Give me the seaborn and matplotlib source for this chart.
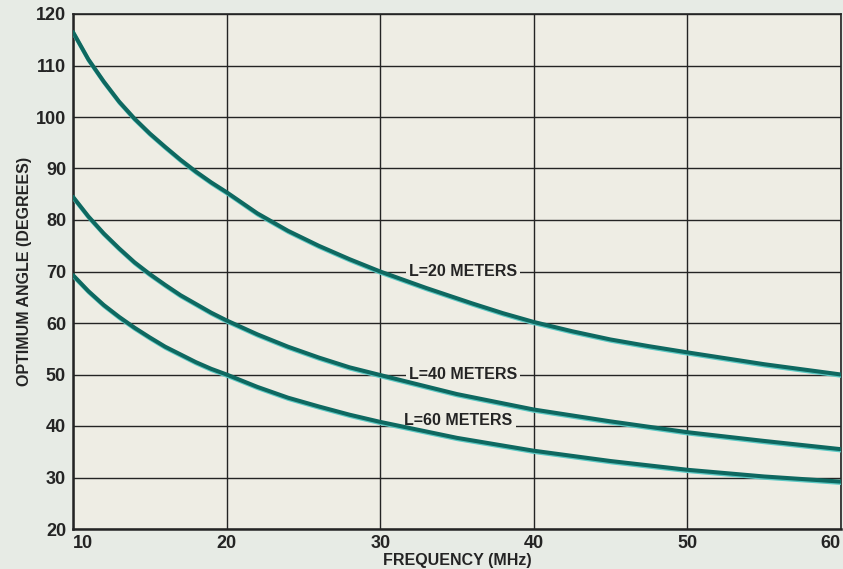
import matplotlib
matplotlib.use("Agg")
import matplotlib.pyplot as plt
import matplotlib.transforms as mtransforms
import seaborn as sns
import pandas as pd

# ---- data ----
freq_l20 = [10, 11, 12, 13, 14, 15, 16, 17, 18, 19, 20, 22, 24, 26, 28, 30,
            33, 36, 38, 40, 42.5, 45, 47.5, 50, 55, 60]
angle_l20 = [116.5, 111.2, 106.9, 103.0, 99.7, 96.8, 94.2, 91.7, 89.4, 87.3, 85.4,
             81.3, 77.9, 75.0, 72.4, 70.0, 66.8, 63.8, 61.9, 60.2, 58.4, 56.8,
             55.5, 54.3, 52.0, 50.0]

freq_l40 = [10, 11, 12, 13, 14, 15, 16, 17, 18, 19, 20, 22, 24, 26, 28, 30,
            35, 40, 45, 50, 55, 60]
angle_l40 = [84.5, 80.7, 77.4, 74.5, 71.8, 69.5, 67.4, 65.4, 63.7, 62.0, 60.5,
             57.8, 55.4, 53.3, 51.4, 49.9, 46.2, 43.2, 40.9, 38.8, 37.1, 35.5]

freq_l60 = [10, 11, 12, 13, 14, 15, 16, 17, 18, 19, 20, 22, 24, 26, 28, 30,
            35, 40, 45, 50, 55, 60]
angle_l60 = [69.3, 66.2, 63.5, 61.2, 59.1, 57.2, 55.4, 53.9, 52.4, 51.1, 50.0,
             47.6, 45.5, 43.8, 42.2, 40.8, 37.7, 35.2, 33.2, 31.5, 30.2, 29.2]

series_labels = ["L=20 METERS", "L=40 METERS", "L=60 METERS"]
label_pos_x = [35.4, 35.4, 35.1]
label_pos_y = [70, 50, 41.1]

x_ticks = [10, 20, 30, 40, 50, 60]
y_ticks = [20, 30, 40, 50, 60, 70, 80, 90, 100, 110, 120]
x_label = "FREQUENCY (MHz)"
y_label = "OPTIMUM ANGLE (DEGREES)"

# ---- styling ----
sns.set_style("white")
plt.rcParams["font.family"] = ["Liberation Sans", "DejaVu Sans"]

paper = "#eeede4"
ink = "#242424"
teal = "#0e6860"

df = pd.concat([
    pd.DataFrame({"freq": freq_l20, "angle": angle_l20, "series": series_labels[0]}),
    pd.DataFrame({"freq": freq_l40, "angle": angle_l40, "series": series_labels[1]}),
    pd.DataFrame({"freq": freq_l60, "angle": angle_l60, "series": series_labels[2]}),
], ignore_index=True)

fig = plt.figure(figsize=(8.43, 5.69), dpi=100, facecolor="#e7ebe5")
ax = fig.add_axes([73 / 843, 40 / 569, (841 - 73) / 843, (529 - 14) / 569])
ax.set_facecolor(paper)

# cyan misregistration halo, slightly offset downward
sns.lineplot(data=df, x="freq", y="angle", units="series", estimator=None,
             color="#5cc9c4", linewidth=2.8, ax=ax, legend=False, zorder=3)
halo_tr = mtransforms.offset_copy(ax.transData, fig=fig, x=0.5, y=-1.4, units="dots")
for ln in ax.get_lines():
    ln.set_transform(halo_tr)
sns.lineplot(data=df, x="freq", y="angle", units="series", estimator=None,
             color=teal, linewidth=2.9, ax=ax, legend=False, zorder=4)

ax.set_xlim(10, 60)
ax.set_ylim(20, 120)
ax.set_xticks(x_ticks)
ax.set_yticks(y_ticks)
ax.set_xticklabels([str(v) for v in x_ticks], fontweight="bold")
ax.set_yticklabels([str(v) for v in y_ticks], fontweight="bold")
ax.grid(True, color=ink, linewidth=1.0, zorder=1)
ax.set_axisbelow(True)
ax.tick_params(axis="both", length=0, labelsize=13, colors=ink, pad=4)
ax.tick_params(axis="y", pad=5)
xtl = ax.get_xticklabels()
xtl[0].set_horizontalalignment("left")
xtl[-1].set_horizontalalignment("right")

for side in ["left", "bottom"]:
    ax.spines[side].set_linewidth(1.8)
    ax.spines[side].set_color(ink)
for side in ["top", "right"]:
    ax.spines[side].set_linewidth(1.2)
    ax.spines[side].set_color(ink)

ax.set_xlabel(x_label, fontsize=11.5, color=ink, labelpad=1, fontweight="bold")
ax.set_ylabel(y_label, fontsize=11.5, color=ink, labelpad=3, fontweight="bold")

for txt, xx, yy in zip(series_labels, label_pos_x, label_pos_y):
    ax.text(xx, yy, txt, ha="center", va="center", fontsize=11.5, fontweight="bold",
            color=ink, zorder=2,
            bbox=dict(boxstyle="square,pad=0.2", facecolor=paper, edgecolor="none"))

fig.savefig("out.png", dpi=100, facecolor=fig.get_facecolor())
